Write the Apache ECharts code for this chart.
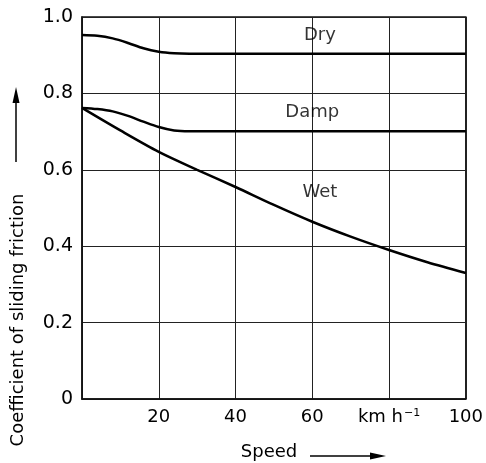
<!DOCTYPE html>
<html><head><meta charset="utf-8">
<script src="https://cdn.jsdelivr.net/npm/echarts@6/dist/echarts.min.js"></script>
<style>html,body{margin:0;padding:0;background:#fff}#c{width:486px;height:463px}</style>
</head><body><div id="c"></div>
<script>
const dryX = [0, 4, 8, 12, 16, 20, 24, 28, 40, 60, 80, 100];
const dryY = [0.953, 0.951, 0.944, 0.932, 0.918, 0.909, 0.905, 0.904, 0.904, 0.904, 0.904, 0.904];
const dampX = [0, 4, 8, 12, 16, 20, 24, 28, 40, 60, 80, 100];
const dampY = [0.762, 0.759, 0.753, 0.741, 0.726, 0.712, 0.703, 0.701, 0.701, 0.701, 0.701, 0.701];
const wetX = [0, 10, 20, 30, 40, 50, 60, 70, 80, 90, 100];
const wetY = [0.762, 0.703, 0.647, 0.600, 0.555, 0.508, 0.464, 0.425, 0.390, 0.358, 0.330];
const curveNames = ['Dry', 'Damp', 'Wet'];
const labelX = [62, 60, 62];
const labelY = [0.952, 0.751, 0.542];
const xTicks = [0, 20, 40, 60, 80, 100];
const xTickLabels = ['', '20', '40', '60', 'km h{sup|−1}', '100'];
const yTicks = [0, 0.2, 0.4, 0.6, 0.8, 1.0];
const yTickLabels = ['0', '0.2', '0.4', '0.6', '0.8', '1.0'];
const yTitle = 'Coefficient of sliding friction';
const xTitle = 'Speed';

const FONT = '"DejaVu Sans", sans-serif';
const INK = '#000';
const pairs = (xs, ys) => xs.map((x, i) => [x, ys[i]]);
const lineSeries = (name, data) => ({
  name, type: 'line', data, smooth: 0.3, symbol: 'none',
  lineStyle: { color: '#000', width: 2.5 }, z: 5
});
const chart = echarts.init(document.getElementById('c'), null, { renderer: 'canvas' });
chart.setOption({
  animation: false,
  backgroundColor: '#fff',
  grid: { left: 82, right: 15, top: 17, bottom: 64, show: true, borderColor: '#111', borderWidth: 1.5 },
  xAxis: {
    type: 'value', min: 0, max: 100, interval: 20,
    axisLine: { show: true, lineStyle: { color: '#111', width: 1.5 } },
    axisTick: { show: false },
    splitLine: { show: true, lineStyle: { color: '#222', width: 1 } },
    axisLabel: {
      margin: 9, color: INK, fontSize: 18, fontFamily: FONT,
      formatter: v => { const i = xTicks.indexOf(v); return i >= 0 ? xTickLabels[i] : ''; },
      rich: { sup: { fontSize: 11, verticalAlign: 'top', padding: [0, 0, 8, 1], fontFamily: FONT, color: INK } }
    }
  },
  yAxis: {
    type: 'value', min: 0, max: 1, interval: 0.2,
    axisLine: { show: true, lineStyle: { color: '#111', width: 1.5 } },
    axisTick: { show: false },
    splitLine: { show: true, lineStyle: { color: '#222', width: 1 } },
    axisLabel: {
      margin: 9, color: INK, fontSize: 19, fontFamily: FONT,
      formatter: v => { const i = yTicks.findIndex(t => Math.abs(t - v) < 1e-6); return i >= 0 ? yTickLabels[i] : ''; }
    }
  },
  series: [
    lineSeries(curveNames[0], pairs(dryX, dryY)),
    lineSeries(curveNames[1], pairs(dampX, dampY)),
    lineSeries(curveNames[2], pairs(wetX, wetY)),
    {
      type: 'scatter', symbolSize: 0, z: 6,
      data: curveNames.map((n, i) => ({ value: [labelX[i], labelY[i]], name: n })),
      label: { show: true, position: 'inside', formatter: p => p.name, color: INK, fontSize: 18, fontFamily: FONT }
    }
  ],
  graphic: [
    { type: 'text', x: 18, y: 320, rotation: Math.PI / 2,
      style: { text: yTitle, font: '18px ' + FONT, fill: INK, align: 'center', verticalAlign: 'middle' } },
    { type: 'line', shape: { x1: 16, y1: 162, x2: 16, y2: 100 }, style: { stroke: INK, lineWidth: 1.5 } },
    { type: 'polygon', shape: { points: [[16, 87], [12.5, 103], [19.5, 103]] }, style: { fill: INK } },
    { type: 'text', x: 269, y: 452,
      style: { text: xTitle, font: '18px ' + FONT, fill: INK, align: 'center', verticalAlign: 'middle' } },
    { type: 'line', shape: { x1: 310, y1: 456, x2: 372, y2: 456 }, style: { stroke: INK, lineWidth: 1.5 } },
    { type: 'polygon', shape: { points: [[386, 456], [370, 452.5], [370, 459.5]] }, style: { fill: INK } }
  ]
});
</script></body></html>
